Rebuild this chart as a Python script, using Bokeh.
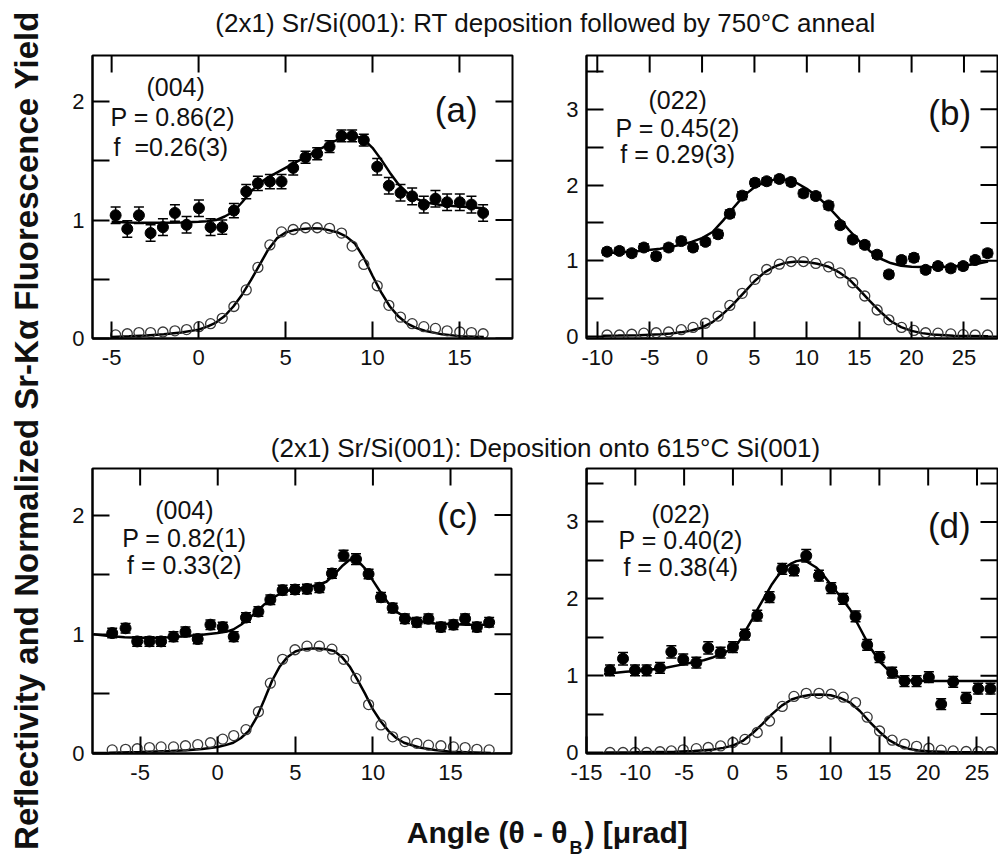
import numpy as np
from bokeh.plotting import figure
from bokeh.layouts import row, column
from bokeh.models import (FixedTicker, Whisker, TeeHead, ColumnDataSource, Range1d)
from bokeh.core.properties import value
from bokeh.embed import file_html
from bokeh.resources import INLINE

FONT = "Liberation Sans"

# ---------------- data: panel (a) ----------------
a_x = [-4.77, -4.10, -3.43, -2.76, -2.05, -1.36, -0.69, 0.02, 0.69, 1.36, 2.03, 2.74,
       3.41, 4.10, 4.77, 5.44, 6.15, 6.82, 7.53, 8.22, 8.83, 9.50, 10.27, 10.94,
       11.61, 12.28, 12.95, 13.62, 14.29, 15.02, 15.69, 16.36]
a_fluo = [1.04, 0.925, 1.04, 0.89, 0.94, 1.06, 0.96, 1.10, 0.94, 0.94, 1.08, 1.24,
          1.31, 1.325, 1.325, 1.44, 1.53, 1.56, 1.62, 1.71, 1.71, 1.675, 1.45, 1.29,
          1.23, 1.20, 1.13, 1.18, 1.15, 1.15, 1.13, 1.06]
a_err = [0.07, 0.07, 0.07, 0.07, 0.07, 0.07, 0.07, 0.07, 0.07, 0.06, 0.06, 0.06,
         0.06, 0.06, 0.06, 0.06, 0.05, 0.05, 0.05, 0.05, 0.05, 0.05, 0.07, 0.07,
         0.07, 0.07, 0.07, 0.07, 0.07, 0.07, 0.07, 0.07]
a_refl = [0.03, 0.04, 0.05, 0.05, 0.055, 0.065, 0.075, 0.10, 0.125, 0.17, 0.27, 0.41,
          0.60, 0.79, 0.90, 0.92, 0.935, 0.935, 0.93, 0.89, 0.78, 0.625, 0.445, 0.28,
          0.18, 0.125, 0.10, 0.085, 0.065, 0.055, 0.05, 0.04]
a_fitr_x = [-5, -4, -3, -2, -1, 0, 0.5, 1, 1.5, 2, 2.5, 3, 3.5, 4, 4.5, 5, 5.5, 6, 6.5,
            7, 7.5, 8, 8.5, 9, 9.5, 10, 10.5, 11, 11.5, 12, 12.5, 13, 14, 15, 16.4]
a_fitr_y = [0.012, 0.018, 0.025, 0.035, 0.05, 0.075, 0.10, 0.135, 0.19, 0.27, 0.37, 0.49,
            0.62, 0.75, 0.845, 0.895, 0.915, 0.925, 0.93, 0.928, 0.915, 0.895, 0.86, 0.80,
            0.68, 0.53, 0.39, 0.27, 0.185, 0.125, 0.09, 0.065, 0.035, 0.02, 0.012]
a_fitf_x = [-5, -4, -3, -2, -1, 0, 0.5, 1, 1.5, 2, 2.5, 3, 3.5, 4, 4.5, 5, 5.5, 6, 6.5,
            7, 7.5, 8, 8.5, 9, 9.5, 10, 10.5, 11, 11.5, 12, 12.5, 13, 14, 15, 16.4]
a_fitf_y = [0.985, 0.98, 0.978, 0.978, 0.98, 0.985, 0.99, 1.0, 1.03, 1.07, 1.15, 1.24,
            1.31, 1.36, 1.40, 1.44, 1.48, 1.52, 1.56, 1.60, 1.64, 1.68, 1.70, 1.71, 1.68,
            1.61, 1.51, 1.40, 1.30, 1.23, 1.18, 1.15, 1.125, 1.115, 1.10]

# ---------------- data: panel (b) ----------------
b_x = [-9.07, -7.89, -6.71, -5.56, -4.38, -3.19, -1.98, -0.86, 0.32, 1.53, 2.65, 3.83,
       5.05, 6.17, 7.38, 8.50, 9.68, 10.86, 12.08, 13.19, 14.38, 15.53, 16.71, 17.83,
       19.04, 20.22, 21.34, 22.52, 23.74, 24.92, 26.07, 27.25]
b_fluo = [1.12, 1.13, 1.10, 1.175, 1.06, 1.175, 1.26, 1.175, 1.25, 1.35, 1.62, 1.86,
          2.03, 2.05, 2.08, 2.04, 1.89, 1.855, 1.73, 1.47, 1.28, 1.21, 1.08, 0.82,
          1.01, 1.04, 0.88, 0.93, 0.90, 0.93, 1.01, 1.10]
b_err = [0.045, 0.045, 0.045, 0.05, 0.045, 0.045, 0.05, 0.045, 0.045, 0.05, 0.05, 0.05,
         0.045, 0.045, 0.045, 0.045, 0.045, 0.045, 0.05, 0.045, 0.045, 0.045, 0.045, 0.045,
         0.045, 0.05, 0.045, 0.045, 0.045, 0.045, 0.045, 0.05]
b_refl = [0.02, 0.02, 0.03, 0.045, 0.05, 0.06, 0.09, 0.12, 0.175, 0.27, 0.41, 0.57,
          0.755, 0.885, 0.955, 0.99, 0.99, 0.965, 0.92, 0.84, 0.71, 0.535, 0.35, 0.22,
          0.12, 0.08, 0.05, 0.045, 0.035, 0.025, 0.02, 0.02]
b_fitr_x = [-9.5, -8, -6, -4, -3, -2, -1, 0, 1, 2, 3, 4, 5, 6, 7, 8, 9, 10, 11, 12, 13,
            14, 15, 16, 17, 18, 19, 20, 21, 22, 24, 27.3]
b_fitr_y = [0.01, 0.012, 0.018, 0.03, 0.04, 0.055, 0.08, 0.12, 0.19, 0.30, 0.43, 0.58,
            0.73, 0.85, 0.93, 0.975, 0.99, 0.985, 0.96, 0.925, 0.855, 0.76, 0.62, 0.47,
            0.33, 0.205, 0.125, 0.075, 0.045, 0.028, 0.01, 0.005]
b_fitf_x = [-9.5, -8, -6, -4, -2, -1, 0, 1, 2, 3, 4, 5, 6, 7, 8, 9, 10, 11, 12, 13, 14,
            15, 16, 17, 18, 19, 20, 22, 24, 26, 27.3]
b_fitf_y = [1.10, 1.11, 1.13, 1.16, 1.21, 1.25, 1.30, 1.38, 1.53, 1.70, 1.86, 1.97,
            2.04, 2.075, 2.07, 2.03, 1.95, 1.85, 1.72, 1.57, 1.41, 1.26, 1.13, 1.03,
            0.97, 0.935, 0.92, 0.915, 0.925, 0.955, 0.99]

# ---------------- data: panel (c) ----------------
c_x = [-6.80, -5.94, -5.19, -4.40, -3.65, -2.85, -2.08, -1.29, -0.47, 0.32, 1.03, 1.82,
       2.62, 3.39, 4.18, 4.98, 5.75, 6.55, 7.36, 8.11, 8.91, 9.72, 10.52, 11.27, 12.06,
       12.83, 13.58, 14.38, 15.19, 15.94, 16.70, 17.49]
c_fluo = [1.01, 1.05, 0.94, 0.94, 0.94, 0.98, 1.02, 0.96, 1.08, 1.06, 0.98, 1.14,
          1.19, 1.29, 1.37, 1.375, 1.38, 1.39, 1.51, 1.66, 1.63, 1.505, 1.31, 1.22, 1.13,
          1.10, 1.13, 1.06, 1.08, 1.13, 1.06, 1.10]
c_err = [0.04, 0.04, 0.04, 0.04, 0.04, 0.04, 0.04, 0.04, 0.04, 0.04, 0.04, 0.04,
         0.04, 0.04, 0.04, 0.04, 0.04, 0.04, 0.04, 0.045, 0.045, 0.04, 0.04, 0.04, 0.04,
         0.04, 0.04, 0.04, 0.04, 0.04, 0.04, 0.04]
c_refl = [0.03, 0.035, 0.04, 0.05, 0.055, 0.055, 0.065, 0.075, 0.09, 0.12, 0.15, 0.20,
          0.35, 0.59, 0.79, 0.87, 0.90, 0.90, 0.875, 0.79, 0.63, 0.41, 0.24, 0.14, 0.10,
          0.085, 0.07, 0.065, 0.055, 0.05, 0.035, 0.03]
c_fitr_x = [-8, -7, -5, -3, -2, -1, 0, 0.5, 1, 1.5, 2, 2.5, 3, 3.5, 4, 4.5, 5, 5.5, 6,
            6.5, 7, 7.5, 8, 8.5, 9, 9.5, 10, 10.5, 11, 11.5, 12, 13, 14, 15, 17.6]
c_fitr_y = [0.005, 0.007, 0.012, 0.02, 0.027, 0.038, 0.055, 0.07, 0.09, 0.13, 0.19,
            0.30, 0.45, 0.61, 0.73, 0.81, 0.855, 0.875, 0.88, 0.88, 0.875, 0.86, 0.81,
            0.73, 0.62, 0.50, 0.37, 0.27, 0.19, 0.13, 0.09, 0.05, 0.03, 0.015, 0.005]
c_fitf_x = [-8, -7, -6, -5, -4, -3, -2, -1, 0, 0.5, 1, 1.5, 2, 2.5, 3, 3.5, 4, 4.5, 5,
            5.5, 6, 6.5, 7, 7.5, 8, 8.5, 9, 9.5, 10, 10.5, 11, 11.5, 12, 13, 14, 15, 16, 17.6]
c_fitf_y = [1.0, 0.985, 0.975, 0.97, 0.97, 0.975, 0.985, 0.995, 1.01, 1.02, 1.04, 1.08,
            1.13, 1.19, 1.25, 1.30, 1.34, 1.365, 1.38, 1.39, 1.40, 1.415, 1.44, 1.50,
            1.57, 1.625, 1.62, 1.55, 1.45, 1.35, 1.26, 1.19, 1.15, 1.11, 1.09, 1.085,
            1.08, 1.08]

# ---------------- data: panel (d) ----------------
d_x = [-12.59, -11.26, -10.03, -8.84, -7.47, -6.31, -5.09, -3.75, -2.53, -1.26, 0.0,
       1.23, 2.49, 3.75, 5.05, 6.25, 7.51, 8.81, 10.07, 11.30, 12.56, 13.75, 15.02,
       16.31, 17.58, 18.81, 20.07, 21.33, 22.56, 23.89, 25.12, 26.38]
d_fluo = [1.07, 1.22, 1.07, 1.07, 1.10, 1.31, 1.21, 1.17, 1.36, 1.30, 1.37, 1.535,
          1.78, 2.02, 2.39, 2.37, 2.56, 2.30, 2.14, 2.00, 1.77, 1.40, 1.24, 1.04, 0.93,
          0.93, 0.98, 0.63, 0.92, 0.71, 0.83, 0.83]
d_err = [0.07, 0.08, 0.07, 0.07, 0.07, 0.08, 0.07, 0.07, 0.08, 0.07, 0.07, 0.07,
         0.07, 0.07, 0.07, 0.07, 0.08, 0.07, 0.07, 0.07, 0.07, 0.07, 0.07, 0.07, 0.07,
         0.07, 0.07, 0.07, 0.07, 0.07, 0.07, 0.07]
d_refl = [0.0, 0.0, 0.0, 0.0, 0.01, 0.02, 0.035, 0.05, 0.065, 0.085, 0.13, 0.17,
          0.26, 0.41, 0.60, 0.73, 0.77, 0.77, 0.76, 0.72, 0.65, 0.46, 0.28, 0.16, 0.11,
          0.08, 0.055, 0.03, 0.02, 0.013, 0.01, 0.01]
d_fitr_x = [-13.2, -10, -6, -4, -2, -1, 0, 1, 2, 3, 4, 5, 6, 7, 8, 9, 10, 11, 12, 13,
            14, 15, 16, 17, 18, 19, 20, 22, 27.1]
d_fitr_y = [0.0, 0.003, 0.01, 0.02, 0.04, 0.06, 0.09, 0.15, 0.25, 0.37, 0.50, 0.61,
            0.69, 0.73, 0.75, 0.755, 0.745, 0.71, 0.65, 0.54, 0.40, 0.27, 0.16, 0.09,
            0.05, 0.025, 0.015, 0.005, 0.0]
d_fitf_x = [-13.2, -11, -9, -7, -5, -3, -2, -1, 0, 0.5, 1, 1.5, 2, 2.5, 3, 3.5, 4, 4.5,
            5, 5.5, 6, 6.5, 7, 7.5, 8, 8.5, 9, 10, 11, 12, 13, 14, 15, 16, 17, 18, 20,
            22, 27.1]
d_fitf_y = [1.02, 1.05, 1.07, 1.10, 1.15, 1.20, 1.24, 1.29, 1.36, 1.42, 1.52, 1.63,
            1.74, 1.86, 1.97, 2.08, 2.19, 2.28, 2.36, 2.42, 2.46, 2.49, 2.50, 2.49, 2.45,
            2.41, 2.35, 2.19, 2.03, 1.86, 1.62, 1.38, 1.19, 1.06, 0.98, 0.94, 0.93, 0.93,
            0.93]

# ---------------- tick values and texts ----------------
ticks_x_004 = [-5, 0, 5, 10, 15]
ticks_x_b = [-10, -5, 0, 5, 10, 15, 20, 25]
ticks_x_d = [-15, -10, -5, 0, 5, 10, 15, 20, 25]
ticks_y_004 = [0, 1, 2]
minor_y_004 = [0.5, 1.5]
ticks_y_022 = [0, 1, 2, 3]
minor_y_022 = [0.5, 1.5, 2.5, 3.5]

title_top = "(2x1) Sr/Si(001): RT deposition followed by 750°C anneal"
title_mid = "(2x1) Sr/Si(001): Deposition onto 615°C Si(001)"
y_title = "Reflectivity and Normalized Sr-Kα Fluorescence Yield"
x_title_main = "Angle (θ - θ"
x_title_sub = "B"
x_title_end = ") [μrad]"

TXT = "#111111"
TICK_LEN = 17


def style_axis(ax, standoff, ticks):
    ax.axis_line_color = "black"
    ax.axis_line_width = 2
    ax.major_tick_in = TICK_LEN
    ax.major_tick_out = 0
    ax.minor_tick_in = TICK_LEN
    ax.minor_tick_out = 0
    ax.major_tick_line_width = 2
    ax.minor_tick_line_width = 2
    ax.major_tick_line_color = "black"
    ax.minor_tick_line_color = "black"
    ax.major_label_text_font = FONT
    ax.major_label_text_font_size = "22px"
    ax.major_label_text_color = TXT
    ax.major_label_standoff = standoff
    ax.major_label_overrides = {t: str(t) for t in ticks}


def panel(w, h, bl, br, bt, bb, xr, yr, xt, yt, ym):
    p = figure(width=w, height=h, x_range=Range1d(*xr), y_range=Range1d(*yr),
               output_backend="svg", toolbar_location=None,
               min_border_left=bl, min_border_right=br,
               min_border_top=bt, min_border_bottom=bb)
    p.grid.visible = False
    p.outline_line_color = "black"
    p.outline_line_width = 2
    p.background_fill_color = "white"
    p.border_fill_color = "white"
    p.xaxis.ticker = FixedTicker(ticks=xt, minor_ticks=[])
    p.yaxis.ticker = FixedTicker(ticks=yt, minor_ticks=ym)
    style_axis(p.xaxis[0], 11, xt)
    style_axis(p.yaxis[0], 8, yt)
    # inward ticks along the top and right edges of the frame
    p.ray(x=xt, y=[yr[1]] * len(xt), length=TICK_LEN, length_units="screen",
          angle=-np.pi / 2, line_color="black", line_width=2)
    yall = list(yt) + list(ym)
    p.ray(x=[xr[1]] * len(yall), y=yall, length=TICK_LEN, length_units="screen",
          angle=np.pi, line_color="black", line_width=2)
    return p


def draw(p, x, fluo, err, refl, frx, fry, ffx, ffy):
    p.line(frx, fry, line_color="black", line_width=2.5)
    p.line(ffx, ffy, line_color="black", line_width=2.5)
    p.scatter(x, refl, marker="circle", size=10, fill_color=None,
              line_color="#3a3a3a", line_width=1.3)
    f = np.array(fluo)
    e = np.array(err)
    src = ColumnDataSource(dict(x=x, lo=f - e, hi=f + e))
    wk = Whisker(source=src, base="x", lower="lo", upper="hi",
                 line_color="black", line_width=1.5,
                 lower_head=TeeHead(size=10, line_width=1.5, line_color="black"),
                 upper_head=TeeHead(size=10, line_width=1.5, line_color="black"))
    p.add_layout(wk)
    p.scatter(x, fluo, marker="circle", size=11, fill_color="black",
              line_color="black")


def annot(p, xs, ys, texts, size, align):
    p.text(x=xs, y=ys, text=texts, text_font=value(FONT), text_font_size=size,
           text_align=align, text_baseline="middle", text_color=TXT)


# ---- panels ----
pa = panel(480, 360, 32, 28, 15, 60, (-6.10, 18.05), (0.0, 2.389),
           ticks_x_004, ticks_y_004, minor_y_004)
draw(pa, a_x, a_fluo, a_err, a_refl, a_fitr_x, a_fitr_y, a_fitf_x, a_fitf_y)
annot(pa, [-1.32], [2.125], ["(004)"], "25px", "center")
annot(pa, [-5.06, -4.89], [1.87, 1.62],
      ["P = 0.86(2)", "f\u00a0\u00a0=0.26(3)"], "25px", "left")
annot(pa, [14.81], [1.93], ["(a)"], "35px", "center")

pb = panel(458, 360, 46, 1, 15, 62, (-11.03, 28.2), (-0.026, 3.71),
           ticks_x_b, ticks_y_022, minor_y_022)
draw(pb, b_x, b_fluo, b_err, b_refl, b_fitr_x, b_fitr_y, b_fitf_x, b_fitf_y)
annot(pb, [-2.33, -2.33, -2.33], [3.12, 2.757, 2.41],
      ["(022)", "P = 0.45(2)", "f = 0.29(3)"], "25px", "center")
annot(pb, [23.64], [2.96], ["(b)"], "35px", "center")

pc = panel(480, 338, 32, 29, 6, 45, (-8.07, 18.93), (0.0, 2.39),
           ticks_x_004, ticks_y_004, minor_y_004)
draw(pc, c_x, c_fluo, c_err, c_refl, c_fitr_x, c_fitr_y, c_fitf_x, c_fitf_y)
annot(pc, [-2.15, -2.15, -2.15], [2.04, 1.805, 1.583],
      ["(004)", "P = 0.82(1)", "f = 0.33(2)"], "25px", "center")
annot(pc, [15.45], [2.0], ["(c)"], "35px", "center")

pd = panel(458, 338, 46, 1, 6, 47, (-15.0, 27.1), (-0.013, 3.695),
           ticks_x_d, ticks_y_022, minor_y_022)
draw(pd, d_x, d_fluo, d_err, d_refl, d_fitr_x, d_fitr_y, d_fitf_x, d_fitf_y)
annot(pd, [-5.35, -5.35, -5.35], [3.108, 2.76, 2.416],
      ["(022)", "P = 0.40(2)", "f = 0.38(4)"], "25px", "center")
annot(pd, [22.16], [2.956], ["(d)"], "35px", "center")


def strip(w, h):
    s = figure(width=w, height=h, x_range=Range1d(0, w), y_range=Range1d(0, h),
               output_backend="svg", toolbar_location=None, min_border=0,
               x_axis_type=None, y_axis_type=None, outline_line_color=None)
    s.grid.visible = False
    s.background_fill_color = "white"
    s.border_fill_color = "white"
    return s


left = strip(60, 859)
left.text(x=[26], y=[429], text=[y_title], angle=np.pi / 2,
          text_font=value(FONT), text_font_style="bold", text_font_size="33px",
          text_align="center", text_baseline="middle", text_color=TXT)

top = strip(938, 40)
top.text(x=[485], y=[18], text=[title_top], text_font=value(FONT),
         text_font_size="26px", text_align="center", text_baseline="middle",
         text_color=TXT)

mid = strip(938, 62)
mid.text(x=[485], y=[15], text=[title_mid], text_font=value(FONT),
         text_font_size="26px", text_align="center", text_baseline="middle",
         text_color=TXT)

bot = strip(938, 59)
bot.text(x=[507], y=[27], text=[x_title_main], text_font=value(FONT),
         text_font_style="bold", text_font_size="30px", text_align="right",
         text_baseline="alphabetic", text_color=TXT)
bot.text(x=[509], y=[12], text=[x_title_sub], text_font=value(FONT),
         text_font_style="bold", text_font_size="18px", text_align="left",
         text_baseline="alphabetic", text_color=TXT)
bot.text(x=[524], y=[27], text=[x_title_end], text_font=value(FONT),
         text_font_style="bold", text_font_size="30px", text_align="left",
         text_baseline="alphabetic", text_color=TXT)

layout = row(left, column(top, row(pa, pb), mid, row(pc, pd), bot))

open("out.html", "w").write(file_html(layout, INLINE))
